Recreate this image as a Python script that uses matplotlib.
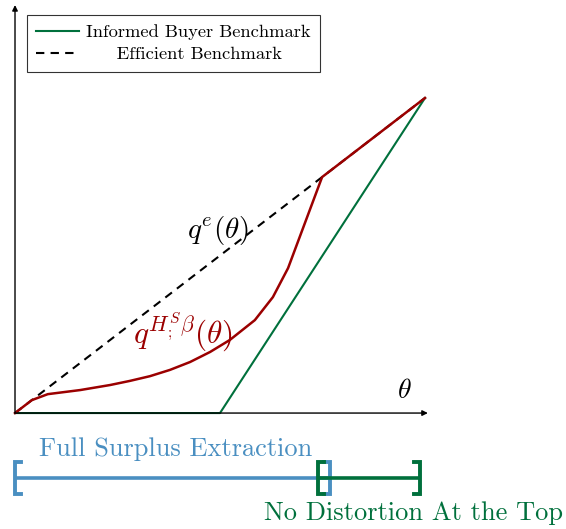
import matplotlib
matplotlib.use("Agg")
import matplotlib.pyplot as plt

plt.rcParams["mathtext.fontset"] = "cm"
plt.rcParams["font.family"] = "cmr10"
plt.rcParams["axes.formatter.use_mathtext"] = True

# curves (theta on [0, 1], quantity on [0, 1])
theta_red = [0.0, 0.041, 0.080, 0.159, 0.232, 0.280, 0.329, 0.378, 0.427,
             0.476, 0.524, 0.585, 0.629, 0.666, 0.749, 1.0]
q_red = [0.0, 0.041, 0.060, 0.073, 0.089, 0.102, 0.117, 0.137, 0.162,
         0.194, 0.232, 0.295, 0.368, 0.460, 0.749, 1.0]
theta_eff = [0.0, 1.0]
q_eff = [0.0, 1.0]
theta_inf = [0.0, 0.5, 1.0]
q_inf = [0.0, 0.0, 1.0]

# intervals below the axis
full_surplus = (0.0, 0.768)
no_distortion = (0.739, 0.988)

red = "#9b0000"
green = "#00703c"
blue = "#4a8fc1"
black = "#000000"

fig = plt.figure(figsize=(5.66, 5.29), dpi=100)
ax = fig.add_axes([0, 0, 1, 1])
ax.set_xlim(-0.0366, 1.3439)
ax.set_ylim(-0.368, 1.311)
ax.axis("off")

ax.plot(theta_eff, q_eff, color=black, lw=1.5, ls=(0, (4, 3)),
        label="     Efficient Benchmark")
ax.plot(theta_inf, q_inf, color=green, lw=1.5, label="Informed Buyer Benchmark")
ax.plot(theta_red, q_red, color=red, lw=1.8)

# axes with arrows
ax.annotate("", xy=(1.007, 0), xytext=(0, 0),
            arrowprops=dict(arrowstyle="-|>", color=black, lw=1.0,
                            mutation_scale=8, shrinkA=0, shrinkB=0))
ax.annotate("", xy=(0, 1.295), xytext=(0, 0),
            arrowprops=dict(arrowstyle="-|>", color=black, lw=1.0,
                            mutation_scale=8, shrinkA=0, shrinkB=0))

ax.text(0.95, 0.07, r"$\theta$", fontsize=20, ha="center", va="center")
ax.text(0.495, 0.58, r"$q^e(\theta)$", fontsize=21, ha="center", va="center")
ax.text(0.41, 0.255, r"$q^{H^{S}_{;}\beta}(\theta)$", fontsize=22.5, color=red,
        ha="center", va="center")

# interval brackets
def bracket(x0, x1, y, h, color):
    s = 0.014
    ax.plot([x0, x1], [y, y], color=color, lw=2.6, solid_capstyle="butt")
    ax.plot([x0 + s, x0, x0, x0 + s], [y + h, y + h, y - h, y - h],
            color=color, lw=2.8, solid_joinstyle="miter")
    ax.plot([x1 - s, x1, x1, x1 - s], [y + h, y + h, y - h, y - h],
            color=color, lw=2.8, solid_joinstyle="miter")

bracket(full_surplus[0], full_surplus[1], -0.206, 0.052, blue)
bracket(no_distortion[0], no_distortion[1], -0.206, 0.052, green)
ax.text(0.392, -0.114, "Full Surplus Extraction", fontsize=19, color=blue,
        ha="center", va="center")
ax.text(0.971, -0.317, "No Distortion At the Top", fontsize=19, color=green,
        ha="center", va="center")

handles, labels = ax.get_legend_handles_labels()
leg = ax.legend(handles[::-1], labels[::-1], loc="upper left",
                bbox_to_anchor=(0.048, 0.972), borderaxespad=0,
                fontsize=13.3, frameon=True, fancybox=False, edgecolor=black,
                handlelength=2.3, borderpad=0.5, labelspacing=0.35,
                handletextpad=0.38)
leg.get_frame().set_linewidth(0.8)

fig.savefig("out.png", dpi=100)
